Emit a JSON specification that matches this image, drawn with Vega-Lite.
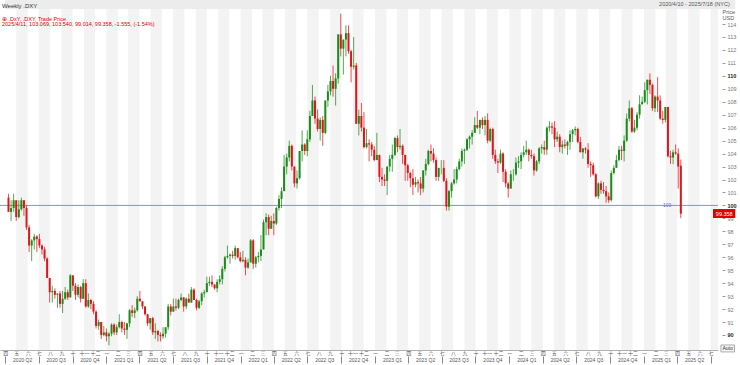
{
  "$schema": "https://vega.github.io/schema/vega-lite/v6.json",
  "width": 718,
  "height": 341,
  "autosize": {"type": "none"},
  "padding": {"left": 0, "top": 9, "right": 22, "bottom": 15},
  "background": "white",
  "config": {"view": {"stroke": null}, "font": "Liberation Sans", "axis": {"labelOverlap": false}},
  "title": {
    "text": "Weekly .DXY",
    "subtitle": ["\u00a0\u00a0\u00a0\u00a0\u00a0\u2295\u00a0.DxY, .DXY, Trade Price", "\u00a0\u00a0\u00a0\u00a0\u00a0\u00a0\u00a0\u00a0\u00a02025/4/11, 103.069, 103.540, 99.014, 99.358, -1.555, (-1.54%)"],
    "anchor": "start",
    "frame": "group",
    "fontSize": 6,
    "fontWeight": "normal",
    "color": "#333333",
    "subtitleFontSize": 5.5,
    "subtitleColor": "#e00000",
    "subtitlePadding": 8,
    "subtitleLineHeight": 5.5,
    "offset": -28,
    "dx": 2
  },
  "datasets": {
    "one": [{}],
    "bands": [
      {"s": "2020-05-01", "e": "2020-06-01"}, {"s": "2020-07-01", "e": "2020-08-01"}, {"s": "2020-09-01", "e": "2020-10-01"}, {"s": "2020-11-01", "e": "2020-12-01"},
      {"s": "2021-01-01", "e": "2021-02-01"}, {"s": "2021-03-01", "e": "2021-04-01"}, {"s": "2021-05-01", "e": "2021-06-01"}, {"s": "2021-07-01", "e": "2021-08-01"}, {"s": "2021-09-01", "e": "2021-10-01"}, {"s": "2021-11-01", "e": "2021-12-01"},
      {"s": "2022-01-01", "e": "2022-02-01"}, {"s": "2022-03-01", "e": "2022-04-01"}, {"s": "2022-05-01", "e": "2022-06-01"}, {"s": "2022-07-01", "e": "2022-08-01"}, {"s": "2022-09-01", "e": "2022-10-01"}, {"s": "2022-11-01", "e": "2022-12-01"},
      {"s": "2023-01-01", "e": "2023-02-01"}, {"s": "2023-03-01", "e": "2023-04-01"}, {"s": "2023-05-01", "e": "2023-06-01"}, {"s": "2023-07-01", "e": "2023-08-01"}, {"s": "2023-09-01", "e": "2023-10-01"}, {"s": "2023-11-01", "e": "2023-12-01"},
      {"s": "2024-01-01", "e": "2024-02-01"}, {"s": "2024-03-01", "e": "2024-04-01"}, {"s": "2024-05-01", "e": "2024-06-01"}, {"s": "2024-07-01", "e": "2024-08-01"}, {"s": "2024-09-01", "e": "2024-10-01"}, {"s": "2024-11-01", "e": "2024-12-01"},
      {"s": "2025-01-01", "e": "2025-02-01"}, {"s": "2025-03-01", "e": "2025-04-01"}, {"s": "2025-05-01", "e": "2025-06-01"}, {"s": "2025-07-01", "e": "2025-08-01"}
    ],
    "w": [
      {"d":"2020-04-10","o":100.6,"h":100.9,"l":99.5,"c":99.5},
      {"d":"2020-04-17","o":99.5,"h":100.4,"l":98.8,"c":99.8},
      {"d":"2020-04-24","o":99.8,"h":100.9,"l":99.5,"c":100.4},
      {"d":"2020-05-01","o":100.4,"h":100.4,"l":98.8,"c":99.1},
      {"d":"2020-05-08","o":99.1,"h":100.4,"l":99.0,"c":99.7},
      {"d":"2020-05-15","o":99.7,"h":100.6,"l":99.6,"c":100.4},
      {"d":"2020-05-22","o":100.4,"h":100.4,"l":99.2,"c":99.8},
      {"d":"2020-05-29","o":99.8,"h":100.0,"l":98.1,"c":98.3},
      {"d":"2020-06-05","o":98.3,"h":98.5,"l":96.4,"c":96.9},
      {"d":"2020-06-12","o":96.9,"h":97.4,"l":95.7,"c":97.3},
      {"d":"2020-06-19","o":97.3,"h":97.8,"l":96.6,"c":97.6},
      {"d":"2020-06-26","o":97.6,"h":97.7,"l":96.4,"c":97.4},
      {"d":"2020-07-03","o":97.4,"h":97.8,"l":96.7,"c":96.9},
      {"d":"2020-07-10","o":96.9,"h":97.0,"l":96.2,"c":96.6},
      {"d":"2020-07-17","o":96.6,"h":96.8,"l":95.7,"c":95.9},
      {"d":"2020-07-24","o":95.9,"h":96.0,"l":94.4,"c":94.4},
      {"d":"2020-07-31","o":94.4,"h":94.4,"l":92.5,"c":93.3},
      {"d":"2020-08-07","o":93.3,"h":93.8,"l":92.5,"c":93.4},
      {"d":"2020-08-14","o":93.4,"h":93.6,"l":92.8,"c":93.1},
      {"d":"2020-08-21","o":93.1,"h":93.2,"l":92.1,"c":93.2},
      {"d":"2020-08-28","o":93.2,"h":93.4,"l":92.1,"c":92.4},
      {"d":"2020-09-04","o":92.4,"h":93.4,"l":91.7,"c":92.8},
      {"d":"2020-09-11","o":92.8,"h":93.7,"l":92.7,"c":93.3},
      {"d":"2020-09-18","o":93.3,"h":93.5,"l":92.7,"c":92.9},
      {"d":"2020-09-25","o":92.9,"h":94.7,"l":92.9,"c":94.6},
      {"d":"2020-10-02","o":94.6,"h":94.6,"l":93.4,"c":93.8},
      {"d":"2020-10-09","o":93.8,"h":94.0,"l":92.7,"c":93.1},
      {"d":"2020-10-16","o":93.1,"h":93.9,"l":92.9,"c":93.7},
      {"d":"2020-10-23","o":93.7,"h":93.8,"l":92.5,"c":92.8},
      {"d":"2020-10-30","o":92.8,"h":94.3,"l":92.8,"c":94.0},
      {"d":"2020-11-06","o":94.0,"h":94.3,"l":92.1,"c":92.2},
      {"d":"2020-11-13","o":92.2,"h":93.2,"l":92.1,"c":92.7},
      {"d":"2020-11-20","o":92.7,"h":92.8,"l":92.0,"c":92.4},
      {"d":"2020-11-27","o":92.4,"h":92.6,"l":91.6,"c":91.8},
      {"d":"2020-12-04","o":91.8,"h":91.9,"l":90.5,"c":90.7},
      {"d":"2020-12-11","o":90.7,"h":91.2,"l":90.4,"c":91.0},
      {"d":"2020-12-18","o":91.0,"h":91.0,"l":89.7,"c":90.0},
      {"d":"2020-12-25","o":90.0,"h":90.7,"l":89.9,"c":90.2},
      {"d":"2021-01-01","o":90.2,"h":90.5,"l":89.5,"c":89.9},
      {"d":"2021-01-08","o":89.9,"h":90.2,"l":89.2,"c":90.1},
      {"d":"2021-01-15","o":90.1,"h":90.9,"l":89.9,"c":90.8},
      {"d":"2021-01-22","o":90.8,"h":90.9,"l":90.0,"c":90.2},
      {"d":"2021-01-29","o":90.2,"h":90.8,"l":90.0,"c":90.6},
      {"d":"2021-02-05","o":90.6,"h":91.6,"l":90.5,"c":91.0},
      {"d":"2021-02-12","o":91.0,"h":91.1,"l":90.2,"c":90.5},
      {"d":"2021-02-19","o":90.5,"h":91.0,"l":90.0,"c":90.4},
      {"d":"2021-02-26","o":90.4,"h":90.9,"l":89.7,"c":90.9},
      {"d":"2021-03-05","o":90.9,"h":92.0,"l":90.6,"c":91.9},
      {"d":"2021-03-12","o":91.9,"h":92.3,"l":91.4,"c":91.7},
      {"d":"2021-03-19","o":91.7,"h":92.1,"l":91.3,"c":91.9},
      {"d":"2021-03-26","o":91.9,"h":93.0,"l":91.8,"c":92.8},
      {"d":"2021-04-02","o":92.8,"h":93.4,"l":92.6,"c":92.6},
      {"d":"2021-04-09","o":92.6,"h":92.6,"l":92.0,"c":92.2},
      {"d":"2021-04-16","o":92.2,"h":92.2,"l":91.5,"c":91.6},
      {"d":"2021-04-23","o":91.6,"h":91.6,"l":90.7,"c":90.9},
      {"d":"2021-04-30","o":90.9,"h":91.3,"l":90.4,"c":91.3},
      {"d":"2021-05-07","o":91.3,"h":91.4,"l":90.0,"c":90.2},
      {"d":"2021-05-14","o":90.2,"h":90.9,"l":89.7,"c":90.3},
      {"d":"2021-05-21","o":90.3,"h":90.4,"l":89.5,"c":90.0},
      {"d":"2021-05-28","o":90.0,"h":90.2,"l":89.5,"c":89.9},
      {"d":"2021-06-04","o":89.9,"h":90.6,"l":89.7,"c":90.1},
      {"d":"2021-06-11","o":90.1,"h":90.6,"l":89.8,"c":90.6},
      {"d":"2021-06-18","o":90.6,"h":92.4,"l":90.4,"c":92.2},
      {"d":"2021-06-25","o":92.2,"h":92.4,"l":91.5,"c":91.8},
      {"d":"2021-07-02","o":91.8,"h":92.8,"l":91.8,"c":92.2},
      {"d":"2021-07-09","o":92.2,"h":92.8,"l":91.9,"c":92.1},
      {"d":"2021-07-16","o":92.1,"h":92.8,"l":92.0,"c":92.7},
      {"d":"2021-07-23","o":92.7,"h":93.2,"l":92.6,"c":92.9},
      {"d":"2021-07-30","o":92.9,"h":92.9,"l":91.8,"c":92.2},
      {"d":"2021-08-06","o":92.2,"h":92.9,"l":92.0,"c":92.8},
      {"d":"2021-08-13","o":92.8,"h":93.2,"l":92.5,"c":92.5},
      {"d":"2021-08-20","o":92.5,"h":93.7,"l":92.5,"c":93.5},
      {"d":"2021-08-27","o":93.5,"h":93.6,"l":92.7,"c":92.7},
      {"d":"2021-09-03","o":92.7,"h":92.8,"l":91.9,"c":92.1},
      {"d":"2021-09-10","o":92.1,"h":92.7,"l":92.0,"c":92.6},
      {"d":"2021-09-17","o":92.6,"h":93.3,"l":92.3,"c":93.2},
      {"d":"2021-09-24","o":93.2,"h":93.5,"l":92.9,"c":93.3},
      {"d":"2021-10-01","o":93.3,"h":94.5,"l":93.3,"c":94.0},
      {"d":"2021-10-08","o":94.0,"h":94.5,"l":93.8,"c":94.1},
      {"d":"2021-10-15","o":94.1,"h":94.6,"l":93.7,"c":93.9},
      {"d":"2021-10-22","o":93.9,"h":93.9,"l":93.5,"c":93.6},
      {"d":"2021-10-29","o":93.6,"h":94.3,"l":93.3,"c":94.1},
      {"d":"2021-11-05","o":94.1,"h":94.6,"l":93.9,"c":94.3},
      {"d":"2021-11-12","o":94.3,"h":95.3,"l":93.9,"c":95.1},
      {"d":"2021-11-19","o":95.1,"h":96.1,"l":94.9,"c":96.0},
      {"d":"2021-11-26","o":96.0,"h":96.9,"l":95.9,"c":96.1},
      {"d":"2021-12-03","o":96.1,"h":96.3,"l":95.5,"c":96.2},
      {"d":"2021-12-10","o":96.2,"h":96.5,"l":95.9,"c":96.1},
      {"d":"2021-12-17","o":96.1,"h":96.9,"l":95.8,"c":96.7},
      {"d":"2021-12-24","o":96.7,"h":96.7,"l":95.9,"c":96.0},
      {"d":"2021-12-31","o":96.0,"h":96.4,"l":95.6,"c":95.7},
      {"d":"2022-01-07","o":95.7,"h":96.5,"l":95.6,"c":95.8},
      {"d":"2022-01-14","o":95.8,"h":96.0,"l":94.6,"c":95.2},
      {"d":"2022-01-21","o":95.2,"h":95.9,"l":95.1,"c":95.6},
      {"d":"2022-01-28","o":95.6,"h":97.4,"l":95.6,"c":97.3},
      {"d":"2022-02-04","o":97.3,"h":97.4,"l":95.1,"c":95.5},
      {"d":"2022-02-11","o":95.5,"h":96.1,"l":95.2,"c":96.0},
      {"d":"2022-02-18","o":96.0,"h":96.4,"l":95.6,"c":96.1},
      {"d":"2022-02-25","o":96.1,"h":97.7,"l":95.7,"c":96.6},
      {"d":"2022-03-04","o":96.6,"h":98.9,"l":96.6,"c":98.7},
      {"d":"2022-03-11","o":98.7,"h":99.4,"l":97.7,"c":99.1},
      {"d":"2022-03-18","o":99.1,"h":99.3,"l":97.7,"c":98.2},
      {"d":"2022-03-25","o":98.2,"h":99.2,"l":98.2,"c":98.8},
      {"d":"2022-04-01","o":98.8,"h":99.4,"l":97.7,"c":98.6},
      {"d":"2022-04-08","o":98.6,"h":99.9,"l":98.5,"c":99.8},
      {"d":"2022-04-15","o":99.8,"h":100.8,"l":99.6,"c":100.5},
      {"d":"2022-04-22","o":100.5,"h":101.4,"l":99.8,"c":101.1},
      {"d":"2022-04-29","o":101.1,"h":103.9,"l":101.1,"c":103.0},
      {"d":"2022-05-06","o":103.0,"h":104.0,"l":102.4,"c":103.7},
      {"d":"2022-05-13","o":103.7,"h":105.0,"l":103.4,"c":104.6},
      {"d":"2022-05-20","o":104.6,"h":104.7,"l":102.7,"c":103.0},
      {"d":"2022-05-27","o":103.0,"h":103.0,"l":101.4,"c":101.7},
      {"d":"2022-06-03","o":101.7,"h":102.7,"l":101.3,"c":102.1},
      {"d":"2022-06-10","o":102.1,"h":104.2,"l":102.0,"c":104.2},
      {"d":"2022-06-17","o":104.2,"h":105.8,"l":103.4,"c":104.7},
      {"d":"2022-06-24","o":104.7,"h":104.8,"l":103.9,"c":104.2},
      {"d":"2022-07-01","o":104.2,"h":105.8,"l":103.8,"c":105.1},
      {"d":"2022-07-08","o":105.1,"h":107.3,"l":104.9,"c":106.9},
      {"d":"2022-07-15","o":106.9,"h":109.3,"l":106.9,"c":108.1},
      {"d":"2022-07-22","o":108.1,"h":108.4,"l":106.3,"c":106.7},
      {"d":"2022-07-29","o":106.7,"h":107.4,"l":105.7,"c":105.9},
      {"d":"2022-08-05","o":105.9,"h":106.8,"l":105.0,"c":106.6},
      {"d":"2022-08-12","o":106.6,"h":106.9,"l":104.6,"c":105.6},
      {"d":"2022-08-19","o":105.6,"h":108.1,"l":105.5,"c":108.1},
      {"d":"2022-08-26","o":108.1,"h":109.3,"l":107.6,"c":108.8},
      {"d":"2022-09-02","o":108.8,"h":110.0,"l":108.5,"c":109.6},
      {"d":"2022-09-09","o":109.6,"h":110.8,"l":108.4,"c":109.0},
      {"d":"2022-09-16","o":109.0,"h":110.2,"l":107.7,"c":109.8},
      {"d":"2022-09-23","o":109.8,"h":113.2,"l":109.4,"c":113.2},
      {"d":"2022-09-30","o":113.2,"h":114.8,"l":111.5,"c":112.1},
      {"d":"2022-10-07","o":112.1,"h":112.8,"l":110.1,"c":112.8},
      {"d":"2022-10-14","o":112.8,"h":113.9,"l":111.5,"c":113.3},
      {"d":"2022-10-21","o":113.3,"h":113.9,"l":111.7,"c":111.9},
      {"d":"2022-10-28","o":111.9,"h":112.0,"l":109.5,"c":110.7},
      {"d":"2022-11-04","o":110.7,"h":113.0,"l":110.5,"c":110.8},
      {"d":"2022-11-11","o":110.8,"h":111.0,"l":106.3,"c":106.3},
      {"d":"2022-11-18","o":106.3,"h":107.4,"l":105.4,"c":106.9},
      {"d":"2022-11-25","o":106.9,"h":107.9,"l":105.7,"c":106.0},
      {"d":"2022-12-02","o":106.0,"h":107.2,"l":104.4,"c":104.5},
      {"d":"2022-12-09","o":104.5,"h":105.9,"l":104.4,"c":104.8},
      {"d":"2022-12-16","o":104.8,"h":105.1,"l":103.4,"c":104.7},
      {"d":"2022-12-23","o":104.7,"h":104.9,"l":103.8,"c":104.3},
      {"d":"2022-12-30","o":104.3,"h":104.6,"l":103.4,"c":103.5},
      {"d":"2023-01-06","o":103.5,"h":105.6,"l":103.5,"c":103.9},
      {"d":"2023-01-13","o":103.9,"h":103.9,"l":101.8,"c":102.2},
      {"d":"2023-01-20","o":102.2,"h":102.9,"l":101.5,"c":102.0},
      {"d":"2023-01-27","o":102.0,"h":102.4,"l":101.5,"c":101.9},
      {"d":"2023-02-03","o":101.9,"h":103.0,"l":100.8,"c":103.0},
      {"d":"2023-02-10","o":103.0,"h":103.9,"l":102.6,"c":103.6},
      {"d":"2023-02-17","o":103.6,"h":104.7,"l":102.6,"c":103.9},
      {"d":"2023-02-24","o":103.9,"h":105.3,"l":103.8,"c":105.2},
      {"d":"2023-03-03","o":105.2,"h":105.4,"l":104.1,"c":104.5},
      {"d":"2023-03-10","o":104.5,"h":105.9,"l":104.3,"c":104.6},
      {"d":"2023-03-17","o":104.6,"h":104.7,"l":103.2,"c":103.9},
      {"d":"2023-03-24","o":103.9,"h":103.9,"l":101.9,"c":103.1},
      {"d":"2023-03-31","o":103.1,"h":103.2,"l":101.9,"c":102.5},
      {"d":"2023-04-07","o":102.5,"h":102.6,"l":101.4,"c":102.1},
      {"d":"2023-04-14","o":102.1,"h":102.8,"l":100.8,"c":101.6},
      {"d":"2023-04-21","o":101.6,"h":102.2,"l":101.4,"c":101.8},
      {"d":"2023-04-28","o":101.8,"h":102.0,"l":101.0,"c":101.7},
      {"d":"2023-05-05","o":101.7,"h":102.2,"l":100.8,"c":101.3},
      {"d":"2023-05-12","o":101.3,"h":102.7,"l":101.0,"c":102.7},
      {"d":"2023-05-19","o":102.7,"h":103.6,"l":102.3,"c":103.2},
      {"d":"2023-05-26","o":103.2,"h":104.3,"l":103.1,"c":104.2},
      {"d":"2023-06-02","o":104.2,"h":104.7,"l":103.4,"c":104.0},
      {"d":"2023-06-09","o":104.0,"h":104.4,"l":103.3,"c":103.5},
      {"d":"2023-06-16","o":103.5,"h":103.7,"l":101.9,"c":102.2},
      {"d":"2023-06-23","o":102.2,"h":102.9,"l":101.9,"c":102.9},
      {"d":"2023-06-30","o":102.9,"h":103.5,"l":102.4,"c":102.9},
      {"d":"2023-07-07","o":102.9,"h":103.5,"l":101.8,"c":101.9},
      {"d":"2023-07-14","o":101.9,"h":102.1,"l":99.6,"c":99.9},
      {"d":"2023-07-21","o":99.9,"h":101.2,"l":99.6,"c":101.1},
      {"d":"2023-07-28","o":101.1,"h":101.8,"l":100.6,"c":101.7},
      {"d":"2023-08-04","o":101.7,"h":102.8,"l":101.6,"c":102.0},
      {"d":"2023-08-11","o":102.0,"h":103.0,"l":101.7,"c":102.8},
      {"d":"2023-08-18","o":102.8,"h":103.6,"l":102.7,"c":103.4},
      {"d":"2023-08-25","o":103.4,"h":104.4,"l":103.0,"c":104.2},
      {"d":"2023-09-01","o":104.2,"h":104.4,"l":103.2,"c":104.3},
      {"d":"2023-09-08","o":104.3,"h":105.2,"l":104.2,"c":105.1},
      {"d":"2023-09-15","o":105.1,"h":105.4,"l":104.4,"c":105.3},
      {"d":"2023-09-22","o":105.3,"h":105.8,"l":104.7,"c":105.6},
      {"d":"2023-09-29","o":105.6,"h":106.8,"l":105.6,"c":106.2},
      {"d":"2023-10-06","o":106.2,"h":107.3,"l":105.9,"c":106.0},
      {"d":"2023-10-13","o":106.0,"h":106.6,"l":105.5,"c":106.6},
      {"d":"2023-10-20","o":106.6,"h":106.8,"l":105.9,"c":106.2},
      {"d":"2023-10-27","o":106.2,"h":106.9,"l":105.4,"c":106.6},
      {"d":"2023-11-03","o":106.6,"h":107.1,"l":104.8,"c":105.0},
      {"d":"2023-11-10","o":105.0,"h":106.0,"l":104.9,"c":105.9},
      {"d":"2023-11-17","o":105.9,"h":106.0,"l":103.6,"c":103.9},
      {"d":"2023-11-24","o":103.9,"h":104.3,"l":103.2,"c":103.4},
      {"d":"2023-12-01","o":103.4,"h":103.6,"l":102.5,"c":103.3},
      {"d":"2023-12-08","o":103.3,"h":104.3,"l":103.2,"c":104.0},
      {"d":"2023-12-15","o":104.0,"h":104.1,"l":101.8,"c":102.6},
      {"d":"2023-12-22","o":102.6,"h":102.8,"l":101.4,"c":101.7},
      {"d":"2023-12-29","o":101.7,"h":101.8,"l":100.6,"c":101.3},
      {"d":"2024-01-05","o":101.3,"h":102.7,"l":101.3,"c":102.4},
      {"d":"2024-01-12","o":102.4,"h":102.8,"l":101.9,"c":102.4},
      {"d":"2024-01-19","o":102.4,"h":103.7,"l":102.3,"c":103.3},
      {"d":"2024-01-26","o":103.3,"h":103.8,"l":102.9,"c":103.4},
      {"d":"2024-02-02","o":103.4,"h":104.1,"l":102.8,"c":103.9},
      {"d":"2024-02-09","o":103.9,"h":104.6,"l":103.7,"c":104.1},
      {"d":"2024-02-16","o":104.1,"h":105.0,"l":103.9,"c":104.3},
      {"d":"2024-02-23","o":104.3,"h":104.4,"l":103.4,"c":103.9},
      {"d":"2024-03-01","o":103.9,"h":104.3,"l":103.6,"c":103.8},
      {"d":"2024-03-08","o":103.8,"h":104.0,"l":102.3,"c":102.7},
      {"d":"2024-03-15","o":102.7,"h":103.5,"l":102.6,"c":103.4},
      {"d":"2024-03-22","o":103.4,"h":104.5,"l":103.2,"c":104.4},
      {"d":"2024-03-29","o":104.4,"h":104.7,"l":104.0,"c":104.5},
      {"d":"2024-04-05","o":104.5,"h":105.0,"l":103.9,"c":104.3},
      {"d":"2024-04-12","o":104.3,"h":106.1,"l":103.9,"c":106.0},
      {"d":"2024-04-19","o":106.0,"h":106.5,"l":105.7,"c":106.1},
      {"d":"2024-04-26","o":106.1,"h":106.4,"l":105.5,"c":106.0},
      {"d":"2024-05-03","o":106.0,"h":106.5,"l":104.5,"c":105.1},
      {"d":"2024-05-10","o":105.1,"h":105.7,"l":104.9,"c":105.3},
      {"d":"2024-05-17","o":105.3,"h":105.5,"l":104.1,"c":104.5},
      {"d":"2024-05-24","o":104.5,"h":105.0,"l":104.0,"c":104.7},
      {"d":"2024-05-31","o":104.7,"h":105.1,"l":104.4,"c":104.6},
      {"d":"2024-06-07","o":104.6,"h":105.0,"l":103.9,"c":104.9},
      {"d":"2024-06-14","o":104.9,"h":105.8,"l":104.3,"c":105.5},
      {"d":"2024-06-21","o":105.5,"h":105.9,"l":104.9,"c":105.8},
      {"d":"2024-06-28","o":105.8,"h":106.1,"l":105.4,"c":105.9},
      {"d":"2024-07-05","o":105.9,"h":106.0,"l":104.8,"c":104.9},
      {"d":"2024-07-12","o":104.9,"h":105.3,"l":104.1,"c":104.1},
      {"d":"2024-07-19","o":104.1,"h":104.4,"l":103.6,"c":104.4},
      {"d":"2024-07-26","o":104.4,"h":104.5,"l":104.0,"c":104.3},
      {"d":"2024-08-02","o":104.3,"h":104.8,"l":102.9,"c":103.2},
      {"d":"2024-08-09","o":103.2,"h":103.4,"l":102.2,"c":103.1},
      {"d":"2024-08-16","o":103.1,"h":103.3,"l":102.3,"c":102.4},
      {"d":"2024-08-23","o":102.4,"h":102.5,"l":100.6,"c":100.7},
      {"d":"2024-08-30","o":100.7,"h":101.8,"l":100.5,"c":101.7},
      {"d":"2024-09-06","o":101.7,"h":101.9,"l":100.9,"c":101.2},
      {"d":"2024-09-13","o":101.2,"h":101.8,"l":100.9,"c":101.1},
      {"d":"2024-09-20","o":101.1,"h":101.5,"l":100.2,"c":100.7},
      {"d":"2024-09-27","o":100.7,"h":101.0,"l":100.2,"c":100.4},
      {"d":"2024-10-04","o":100.4,"h":102.7,"l":100.3,"c":102.5},
      {"d":"2024-10-11","o":102.5,"h":103.1,"l":102.4,"c":102.9},
      {"d":"2024-10-18","o":102.9,"h":103.9,"l":102.9,"c":103.5},
      {"d":"2024-10-25","o":103.5,"h":104.6,"l":103.4,"c":104.3},
      {"d":"2024-11-01","o":104.3,"h":104.6,"l":103.5,"c":104.2},
      {"d":"2024-11-08","o":104.2,"h":105.4,"l":103.4,"c":105.0},
      {"d":"2024-11-15","o":105.0,"h":107.1,"l":104.9,"c":106.7},
      {"d":"2024-11-22","o":106.7,"h":108.1,"l":106.5,"c":107.5},
      {"d":"2024-11-29","o":107.5,"h":107.6,"l":105.6,"c":105.7},
      {"d":"2024-12-06","o":105.7,"h":106.6,"l":105.6,"c":106.0},
      {"d":"2024-12-13","o":106.0,"h":107.2,"l":105.8,"c":107.0},
      {"d":"2024-12-20","o":107.0,"h":108.5,"l":106.7,"c":107.8},
      {"d":"2024-12-27","o":107.8,"h":108.4,"l":107.8,"c":108.0},
      {"d":"2025-01-03","o":108.0,"h":109.5,"l":107.9,"c":108.9},
      {"d":"2025-01-10","o":108.9,"h":109.7,"l":107.8,"c":109.7},
      {"d":"2025-01-17","o":109.7,"h":110.2,"l":108.6,"c":109.3},
      {"d":"2025-01-24","o":109.3,"h":109.4,"l":107.3,"c":107.5},
      {"d":"2025-01-31","o":107.5,"h":108.5,"l":107.2,"c":108.4},
      {"d":"2025-02-07","o":108.4,"h":109.9,"l":107.2,"c":108.1},
      {"d":"2025-02-14","o":108.1,"h":108.5,"l":106.6,"c":106.7},
      {"d":"2025-02-21","o":106.7,"h":107.3,"l":106.3,"c":106.6},
      {"d":"2025-02-28","o":106.6,"h":107.6,"l":106.4,"c":107.6},
      {"d":"2025-03-07","o":107.6,"h":107.6,"l":103.7,"c":103.8},
      {"d":"2025-03-14","o":103.8,"h":104.2,"l":103.2,"c":103.7},
      {"d":"2025-03-21","o":103.7,"h":104.3,"l":103.2,"c":104.1},
      {"d":"2025-03-28","o":104.1,"h":104.7,"l":103.9,"c":104.0},
      {"d":"2025-04-04","o":104.0,"h":104.4,"l":101.3,"c":103.0},
      {"d":"2025-04-11","o":103.069,"h":103.54,"l":99.014,"c":99.358}
    ]
  },
  "layer": [
    {
      "data": {"name": "one"},
      "mark": {"type": "rect", "color": "#ececec", "clip": false},
      "encoding": {
        "x": {"datum": {"year": 2020, "month": 3, "date": 31, "hours": 12, "utc": true}, "type": "temporal", "axis": null},
        "x2": {"datum": {"year": 2025, "month": 9, "date": 6, "utc": true}},
        "y": {"datum": 115.16, "type": "quantitative"},
        "y2": {"datum": 115.86}
      }
    },
    {
      "data": {"name": "bands"},
      "mark": {"type": "rect", "color": "#f3f3f3", "clip": true},
      "encoding": {
        "x": {
          "field": "s", "type": "temporal",
          "scale": {"type": "utc", "nice": false, "domain": [{"year": 2020, "month": 3, "date": 31, "hours": 12, "utc": true}, {"year": 2025, "month": 7, "date": 7, "hours": 12, "utc": true}]},
          "axis": {
            "orient": "bottom", "title": null, "grid": false,
            "tickCount": {"interval": "month", "step": 1},
            "labelExpr": "['一','二','三','四','五','六','七','八','九','十','十一','十二'][utcmonth(datum.value)]",
            "labelFont": "Noto Sans CJK SC", "labelFontSize": 5, "labelColor": "#555555",
            "ticks": false, "labelPadding": 0, "labelFlush": false, "labelOverlap": false, "labelBound": false,
            "domainColor": "#b0b0b0"
          }
        },
        "x2": {"field": "e"}
      }
    },
    {
      "data": {"name": "one"},
      "mark": {"type": "rule", "color": "#8a8aee", "strokeWidth": 1},
      "encoding": {"y": {"datum": 100, "type": "quantitative"}}
    },
    {
      "data": {"name": "w"},
      "mark": {"type": "rule", "strokeWidth": 1, "opacity": 0.75},
      "encoding": {
        "x": {
          "field": "d", "type": "temporal",
          "axis": {
            "orient": "bottom", "offset": 6, "title": null, "grid": false, "domain": false,
            "tickCount": {"interval": "month", "step": 3},
            "labelExpr": "utcyear(datum.value) == 2025 && utcmonth(datum.value) >= 6 ? '' : utcyear(datum.value) + ' Q' + (floor(utcmonth(datum.value) / 3) + 1)",
            "labelOffset": 17, "labelFontSize": 5, "labelColor": "#555555",
            "tickSize": 7, "tickColor": "#888888", "labelPadding": -6,
            "labelFlush": false, "labelOverlap": false, "labelBound": false
          }
        },
        "y": {
          "field": "l", "type": "quantitative",
          "scale": {"domain": [88.84, 115.16], "zero": false, "nice": false},
          "axis": {
            "orient": "right", "offset": 4, "grid": false, "domain": false,
            "values": [90, 91, 92, 93, 94, 95, 96, 97, 98, 99, 100, 101, 102, 103, 104, 105, 106, 107, 108, 109, 110, 111, 112, 113, 114],
            "tickCount": 30,
            "labelOverlap": false, "labelBound": false, "labelFlush": false,
            "tickSize": 3, "tickColor": "#999999", "labelPadding": 2, "labelFontSize": 5.5,
            "labelColor": {"condition": {"test": "datum.value % 10 === 0", "value": "#222222"}, "value": "#777777"},
            "labelFontWeight": {"condition": {"test": "datum.value % 10 === 0", "value": "bold"}, "value": "normal"},
            "title": ["Price", "USD"], "titleAngle": 0, "titleAlign": "left", "titleBaseline": "top",
            "titleX": 0, "titleY": 0, "titleFontSize": 5.5, "titleFontWeight": "normal", "titleColor": "#555555", "titleLineHeight": 6
          }
        },
        "y2": {"field": "h"},
        "color": {"condition": {"test": "datum.c >= datum.o", "value": "#1a8c1a"}, "value": "#e0151b"}
      }
    },
    {
      "data": {"name": "w"},
      "mark": {"type": "bar", "size": 2},
      "encoding": {
        "x": {"field": "d", "type": "temporal", "axis": null},
        "y": {"field": "o", "type": "quantitative"},
        "y2": {"field": "c"},
        "color": {"condition": {"test": "datum.c >= datum.o", "value": "#1a8c1a"}, "value": "#e0151b"}
      }
    },
    {
      "data": {"name": "one"},
      "mark": {"type": "text", "color": "#6a6ae0", "fontSize": 5, "align": "center", "baseline": "middle", "text": "100"},
      "encoding": {
        "x": {"datum": {"year": 2025, "month": 3, "date": 5, "utc": true}, "type": "temporal", "axis": null},
        "y": {"datum": 100, "type": "quantitative"}
      }
    },
    {
      "data": {"name": "one"},
      "mark": {"type": "rect", "color": "#e00000", "clip": false},
      "encoding": {
        "x": {"datum": {"year": 2025, "month": 7, "date": 7, "hours": 12, "utc": true}, "type": "temporal", "axis": null},
        "x2": {"datum": {"year": 2025, "month": 9, "date": 6, "utc": true}},
        "y": {"datum": 99.03, "type": "quantitative"},
        "y2": {"datum": 99.72}
      }
    },
    {
      "data": {"name": "one"},
      "mark": {"type": "text", "color": "white", "fontSize": 5.5, "align": "center", "baseline": "middle", "text": "99.358", "clip": false},
      "encoding": {
        "x": {"datum": {"year": 2025, "month": 8, "date": 7, "utc": true}, "type": "temporal", "axis": null},
        "y": {"datum": 99.37, "type": "quantitative"}
      }
    },
    {
      "data": {"name": "one"},
      "mark": {"type": "rect", "fill": "#f4f4f4", "stroke": "#8c8c8c", "strokeWidth": 0.7, "clip": false},
      "encoding": {
        "x": {"datum": {"year": 2025, "month": 7, "date": 29, "utc": true}, "type": "temporal", "axis": null},
        "x2": {"datum": {"year": 2025, "month": 9, "date": 4, "utc": true}},
        "y": {"datum": 89.23, "type": "quantitative"},
        "y2": {"datum": 88.69}
      }
    },
    {
      "data": {"name": "one"},
      "mark": {"type": "text", "color": "#333333", "fontSize": 5, "align": "center", "baseline": "middle", "text": "Auto", "clip": false},
      "encoding": {
        "x": {"datum": {"year": 2025, "month": 8, "date": 16, "utc": true}, "type": "temporal", "axis": null},
        "y": {"datum": 88.96, "type": "quantitative"}
      }
    },
    {
      "data": {"name": "one"},
      "mark": {"type": "text", "color": "#555555", "fontSize": 5.5, "align": "right", "baseline": "middle", "text": "2020/4/10 - 2025/7/18 (NYC)", "clip": false},
      "encoding": {
        "x": {"datum": {"year": 2025, "month": 8, "date": 22, "utc": true}, "type": "temporal", "axis": null},
        "y": {"datum": 115.58, "type": "quantitative"}
      }
    }
  ],
  "resolve": {"axis": {"x": "independent"}}
}
